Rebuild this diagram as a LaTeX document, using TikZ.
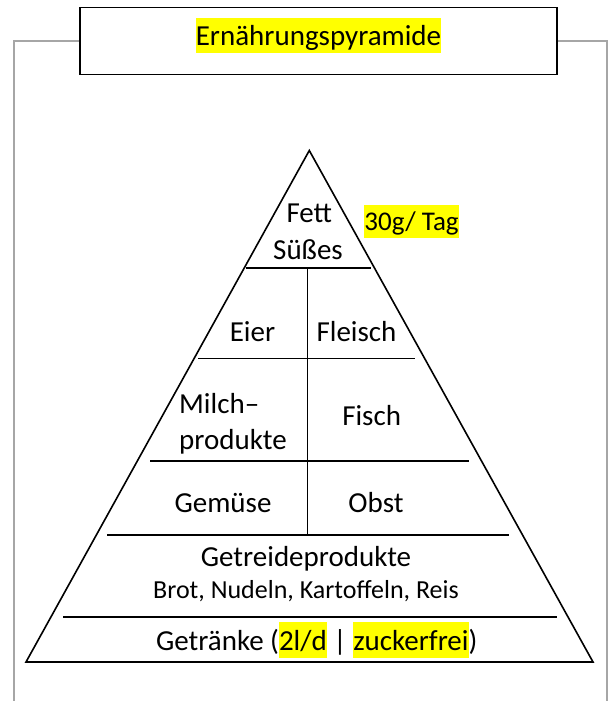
\documentclass[tikz,border=0pt]{standalone}
\usepackage{fontspec}
\setmainfont{Carlito}
\usetikzlibrary{positioning}

\definecolor{markgelb}{RGB}{255,255,0}
\definecolor{rahmengrau}{RGB}{166,166,166}
\newcommand{\markiert}[1]{{\setlength{\fboxsep}{0pt}\colorbox{markgelb}{\rule[-0.27em]{0pt}{1.22em}#1}}}

\begin{document}
\begin{tikzpicture}[x=1pt, y=-1pt,
    linie/.style={line width=1.6pt},
    rahmen/.style={draw=rahmengrau, line width=1.8pt},
    titelbox/.style={draw, line width=1.8pt, minimum width=477pt,
        minimum height=67pt, inner sep=0pt},
    feld/.style={inner sep=0pt, anchor=base, font=\fontsize{29}{35}\selectfont},
    klein/.style={feld, font=\fontsize{26}{31}\selectfont}]
    \useasboundingbox (0,0) rectangle (613,701);

    % Titel und grauer Rahmen
    \node[titelbox] (titel) at (318.5,41) {};
    \node[feld, anchor=center] (titeltext) at (318.5,35.5) {\markiert{Ernährungspyramide}};
    \coordinate (rahmenlu) at (14,701);
    \coordinate (rahmenru) at (606.7,701);
    \draw[rahmen] (titel.west) -| (rahmenlu);
    \draw[rahmen] (titel.east) -| (rahmenru);

    % Pyramide
    \coordinate (spitze) at (309.3,150.5);
    \coordinate (links) at (26,662);
    \coordinate (rechts) at (593,662);
    \draw[linie] (spitze) -- (rechts) -- (links) -- cycle;

    % Trennlinien
    \foreach \name/\y/\xl/\xr in {t1/267.7/245.7/370.7, t2/358.3/198/415,
        t3/460.7/150/469, t4/535/107/508.7, t5/617/63.3/557.3} {
        \coordinate (\name l) at (\xl,\y);
        \coordinate (\name r) at (\xr,\y);
        \draw[linie] (\name l) -- (\name r);
    }
    \coordinate (mitteoben) at (307.3,267.7);
    \coordinate (mitteunten) at (307.3,535);
    \draw[linie] (mitteoben) -- (mitteunten);

    % Felder
    \node[feld] (fett) at (309.3,222.7) {Fett};
    \node[feld] (suesses) at (308,259) {Süßes};
    \node[feld, font=\fontsize{27}{33}\selectfont] (tag) at (411.5,230.7) {\markiert{30g/ Tag}};
    \node[feld] (eier) at (252.5,341) {Eier};
    \node[feld] (fleisch) at (356.5,341) {Fleisch};
    \node[feld, anchor=base west] (milch) at (179,413.3) {Milch–};
    \node[feld, anchor=base west] (produkte) at (179,449) {produkte};
    \node[feld] (fisch) at (371.7,425) {Fisch};
    \node[feld] (gemuese) at (223,512.7) {Gemüse};
    \node[feld] (obst) at (376,512.7) {Obst};
    \node[feld] (getreide) at (306,566) {Getreideprodukte};
    \node[klein] (brot) at (306,598.3) {Brot, Nudeln, Kartoffeln, Reis};
    \node[feld] (getraenke) at (316.7,650) {Getränke (\markiert{2l/d} | \markiert{zuckerfrei})};
\end{tikzpicture}
\end{document}
